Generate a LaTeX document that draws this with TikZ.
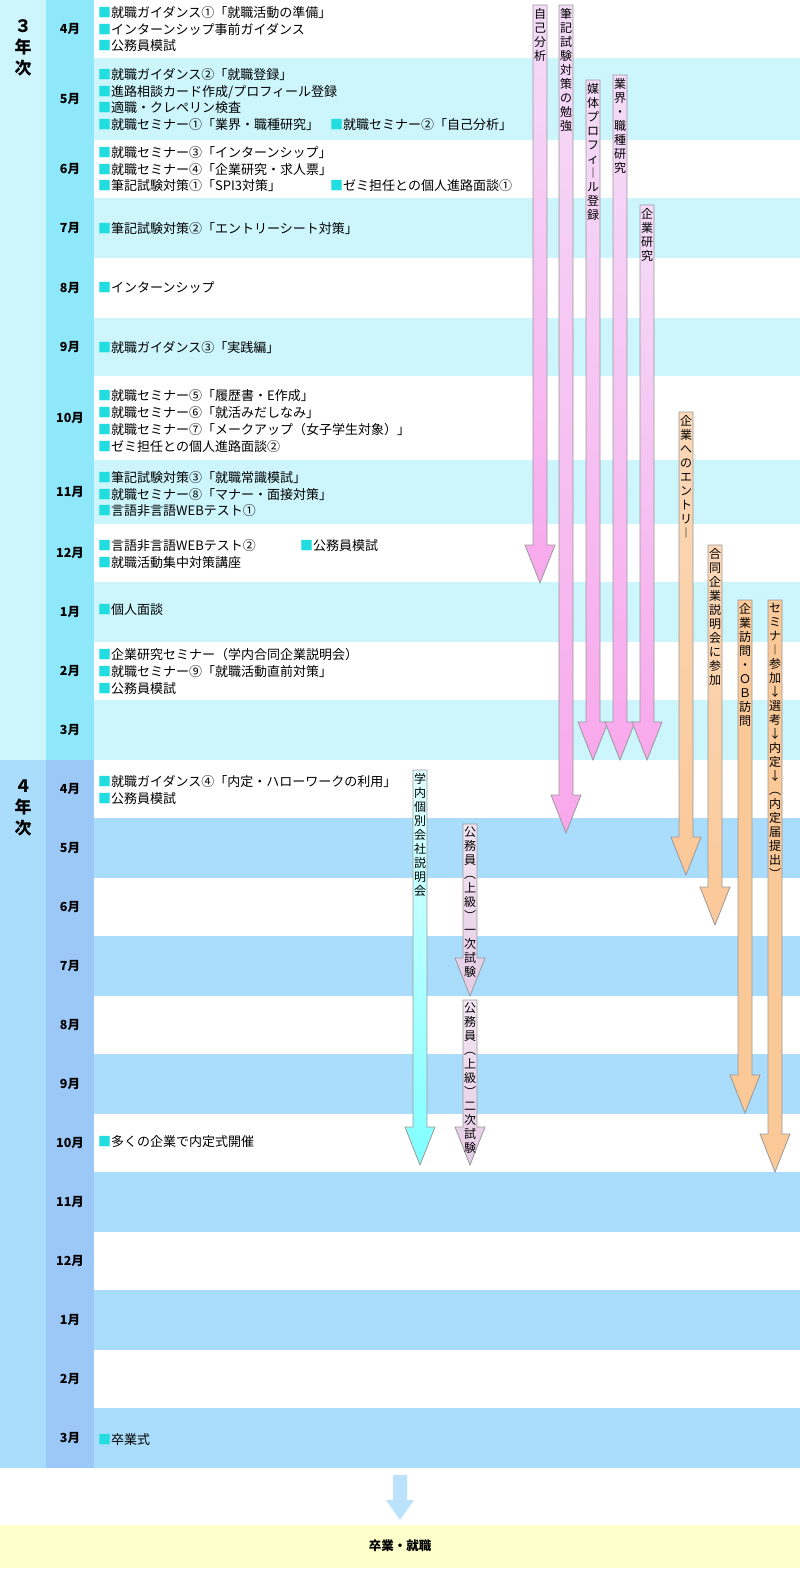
\documentclass[tikz,border=0pt]{standalone}
\usepackage{fontspec}
\setmainfont{Noto Sans CJK JP}
\definecolor{rowthree}{HTML}{CCF5FC}
\definecolor{monththree}{HTML}{8EE8FA}
\definecolor{rowfour}{HTML}{AADCFC}
\definecolor{monthfour}{HTML}{9CC8F8}
\definecolor{bulletcyan}{HTML}{22DDE0}
\definecolor{goalyellow}{HTML}{FFFFCC}
\definecolor{pinktop}{HTML}{F4DCF8}
\definecolor{pinkbot}{HTML}{F8A8EC}
\definecolor{orangetop}{HTML}{FBD8B8}
\definecolor{orangebot}{HTML}{FBC898}
\tikzset{
  item/.style={anchor=west,inner sep=0pt,font=\fontsize{13}{15}\selectfont},
  monthlabel/.style={font=\fontsize{12.5}{14}\selectfont\bfseries},
  yearlabel/.style={align=center,font=\fontsize{17}{21}\selectfont\bfseries},
  vlabel/.style={align=center,inner sep=1pt,font=\fontsize{12}{14}\selectfont},
  arrowline/.style={draw=gray!80,line width=0.8pt},
}
\newcommand{\sq}{{\color{bulletcyan}■}}
% vertical arrow: x, top, tip, top colour, bottom colour, text
\newcommand{\varrow}[6]{%
  \draw[arrowline,top color=#4,bottom color=#5] (#1-7,#2) -- (#1+7,#2) -- (#1+7,#3-38)
    -- (#1+15,#3-38) -- (#1,#3) -- (#1-15,#3-38) -- (#1-7,#3-38) -- cycle;
  \node[vlabel,anchor=north] at (#1,#2+2) {#6};}
\begin{document}
\begin{tikzpicture}[x=1pt,y=-1pt]
	\useasboundingbox (0,0) rectangle (800,1572);
	% third year
	\fill[rowthree] (0,0) rectangle (46,760);
	\fill[monththree] (46,0) rectangle (94,760);
	\foreach \top/\bot in {58/140,198/258,318/376,460/524,582/642,700/760}
		\fill[rowthree] (94,\top) rectangle (800,\bot);
	\foreach \mid/\lab in {29/4月,99/5月,169/6月,228/7月,288/8月,347/9月,418/10月,492/11月,553/12月,612/1月,671/2月,730/3月}
		\node[monthlabel] at (70,\mid) {\lab};
	\node[yearlabel] (y3) at (23,48) {３\\年\\次};
	% fourth year
	\fill[rowfour] (0,760) rectangle (46,1468);
	\fill[monthfour] (46,760) rectangle (94,1468);
	\foreach \top/\bot in {818/878,936/996,1054/1114,1172/1232,1290/1350,1408/1468}
		\fill[rowfour] (94,\top) rectangle (800,\bot);
	\foreach \mid/\lab in {789/4月,848/5月,907/6月,966/7月,1025/8月,1084/9月,1143/10月,1202/11月,1261/12月,1320/1月,1379/2月,1438/3月}
		\node[monthlabel] at (70,\mid) {\lab};
	\node[yearlabel] (y4) at (23,808) {４\\年\\次};

	% events
	\node[item] at (98,13) {\sq 就職ガイダンス①「就職活動の準備」};
	\node[item] at (98,30) {\sq インターンシップ事前ガイダンス};
	\node[item] at (98,46) {\sq 公務員模試};
	\node[item] at (98,75) {\sq 就職ガイダンス②「就職登録」};
	\node[item] at (98,92) {\sq 進路相談カード作成/プロフィール登録};
	\node[item] at (98,108) {\sq 適職・クレペリン検査};
	\node[item] at (98,125) {\sq 就職セミナー①「業界・職種研究」};
	\node[item] at (330,125) {\sq 就職セミナー②「自己分析」};
	\node[item] at (98,153) {\sq 就職セミナー③「インターンシップ」};
	\node[item] at (98,170) {\sq 就職セミナー④「企業研究・求人票」};
	\node[item] at (98,186) {\sq 筆記試験対策①「SPI3対策」};
	\node[item] at (330,186) {\sq ゼミ担任との個人進路面談①};
	\node[item] at (98,229) {\sq 筆記試験対策②「エントリーシート対策」};
	\node[item] at (98,288) {\sq インターンシップ};
	\node[item] at (98,348) {\sq 就職ガイダンス③「実践編」};
	\node[item] at (98,396) {\sq 就職セミナー⑤「履歴書・E作成」};
	\node[item] at (98,413) {\sq 就職セミナー⑥「就活みだしなみ」};
	\node[item] at (98,430) {\sq 就職セミナー⑦「メークアップ（女子学生対象）」};
	\node[item] at (98,447) {\sq ゼミ担任との個人進路面談②};
	\node[item] at (98,478) {\sq 筆記試験対策③「就職常識模試」};
	\node[item] at (98,495) {\sq 就職セミナー⑧「マナー・面接対策」};
	\node[item] at (98,511) {\sq 言語非言語WEBテスト①};
	\node[item] at (98,546) {\sq 言語非言語WEBテスト②};
	\node[item] at (300,546) {\sq 公務員模試};
	\node[item] at (98,563) {\sq 就職活動集中対策講座};
	\node[item] at (98,610) {\sq 個人面談};
	\node[item] at (98,655) {\sq 企業研究セミナー（学内合同企業説明会）};
	\node[item] at (98,672) {\sq 就職セミナー⑨「就職活動直前対策」};
	\node[item] at (98,689) {\sq 公務員模試};
	\node[item] at (98,782) {\sq 就職ガイダンス④「内定・ハローワークの利用」};
	\node[item] at (98,799) {\sq 公務員模試};
	\node[item] at (98,1142) {\sq 多くの企業で内定式開催};
	\node[item] at (98,1440) {\sq 卒業式};

	% activity arrows
	\varrow{540}{5}{583}{pinktop}{pinkbot}{自\\己\\分\\析}
	\varrow{566}{5}{833}{pinktop}{pinkbot}{筆\\記\\試\\験\\対\\策\\の\\勉\\強}
	\varrow{593}{80}{760}{pinktop}{pinkbot}{媒\\体\\プ\\ロ\\フ\\ィ\\︱\\ル\\登\\録}
	\varrow{620}{75}{760}{pinktop}{pinkbot}{業\\界\\・\\職\\種\\研\\究}
	\varrow{647}{205}{760}{pinktop}{pinkbot}{企\\業\\研\\究}
	\varrow{686}{412}{875}{orangetop}{orangebot}{企\\業\\へ\\の\\エ\\ン\\ト\\リ\\︱}
	\varrow{715}{545}{925}{orangetop}{orangebot}{合\\同\\企\\業\\説\\明\\会\\に\\参\\加}
	\varrow{745}{600}{1113}{orangebot}{orangebot}{企\\業\\訪\\問\\・\\Ｏ\\Ｂ\\訪\\問}
	\varrow{775}{600}{1172}{orangebot}{orangebot}{セ\\ミ\\ナ\\︱\\参\\加\\↓\\選\\考\\↓\\内\\定\\↓\\︵\\内\\定\\届\\提\\出\\︶}
	\varrow{420}{770}{1165}{cyan!12}{cyan!50}{学\\内\\個\\別\\会\\社\\説\\明\\会}
	\varrow{470}{824}{996}{violet!10}{violet!20}{公\\務\\員\\︵\\上\\級\\︶\\一\\次\\試\\験}
	\varrow{470}{1000}{1165}{violet!10}{violet!20}{公\\務\\員\\︵\\上\\級\\︶\\二\\次\\試\\験}

	% goal
	\fill[goalyellow] (0,1525) rectangle (800,1568);
	\node[monthlabel] (goal) at (400,1546) {卒業・就職};
	\fill[rowfour!80] (393,1475) -- (407,1475) -- (407,1500) -- (414,1500)
		-- (400,1520) -- (386,1500) -- (393,1500) -- cycle;
\end{tikzpicture}
\end{document}
